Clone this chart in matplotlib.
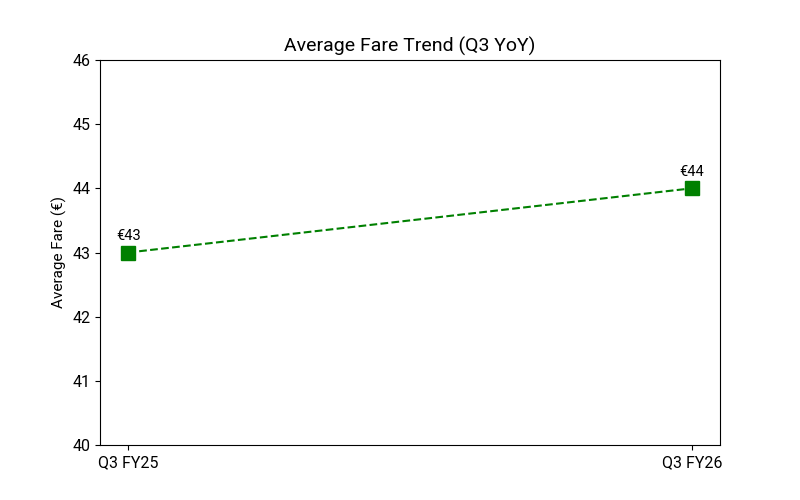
import matplotlib.pyplot as plt

plt.rcParams["font.family"] = ["Roboto", "DejaVu Sans"]

quarters = ["Q3 FY25", "Q3 FY26"]
fares = [43, 44]

fig, ax = plt.subplots(figsize=(8, 5), dpi=100)
ax.plot(quarters, fares, color="green", linestyle="--", marker="s", markersize=10, linewidth=1.5)

for q, f in zip(quarters, fares):
    ax.annotate("€" + str(f), (q, f), textcoords="offset points", xytext=(0, 9), ha="center", fontsize=10.5)

ax.set_ylim(40, 46)
ax.set_title("Average Fare Trend (Q3 YoY)", fontsize=14)
ax.set_ylabel("Average Fare (€)", fontsize=11)
ax.tick_params(labelsize=11.5)

plt.savefig("out.png")
